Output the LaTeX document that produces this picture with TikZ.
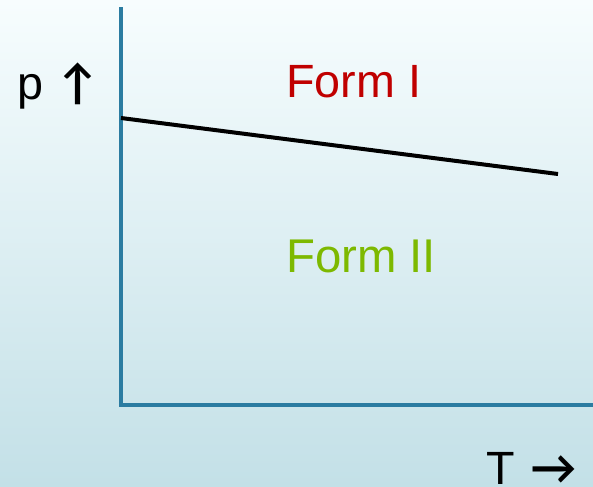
\documentclass[tikz,border=0pt]{standalone}
\usepackage{fontspec}
\setmainfont{Liberation Sans}
\newfontfamily\arrowfont{Lato}[BoldFont=* Bold]
\definecolor{axisblue}{HTML}{2B7CA1}
\definecolor{formred}{HTML}{C00000}
\definecolor{formgreen}{HTML}{7DB900}
\definecolor{bgtop}{HTML}{F7FDFE}
\definecolor{bgbottom}{HTML}{C3E0E7}
\newcommand{\arr}[1]{{\arrowfont\bfseries #1}}
\begin{document}
\begin{tikzpicture}[x=0.75pt,y=-0.75pt,
		lbl/.style={anchor=base west,inner sep=0pt,font=\fontsize{35}{40}\selectfont}]
		\useasboundingbox (0,0) rectangle (593,486);
		\shade[top color=bgtop,bottom color=bgbottom] (0,0) rectangle (593,486);
		% axes
		\coordinate (origin) at (121,405);
		\coordinate (ptop) at (121,7);
		\coordinate (tend) at (593,405);
		\draw[line width=3pt,color=axisblue] (ptop) -- (origin) -- (tend);
		% phase boundary
		\coordinate (bstart) at (121,118);
		\coordinate (bend) at (558,174);
		\draw[line width=3pt] (bstart) -- (bend);
		\node[lbl] (lblP) at (17,99) {p \kern3pt\arr{↑}};
		\node[lbl] (lblT) at (486,484) {T \kern2pt\arr{→}};
		\node[lbl,text=formred] (formI) at (286,97) {Form I};
		\node[lbl,text=formgreen,font=\fontsize{35.5}{40}\selectfont] (formII) at (286,272) {Form II};
	\end{tikzpicture}
\end{document}
